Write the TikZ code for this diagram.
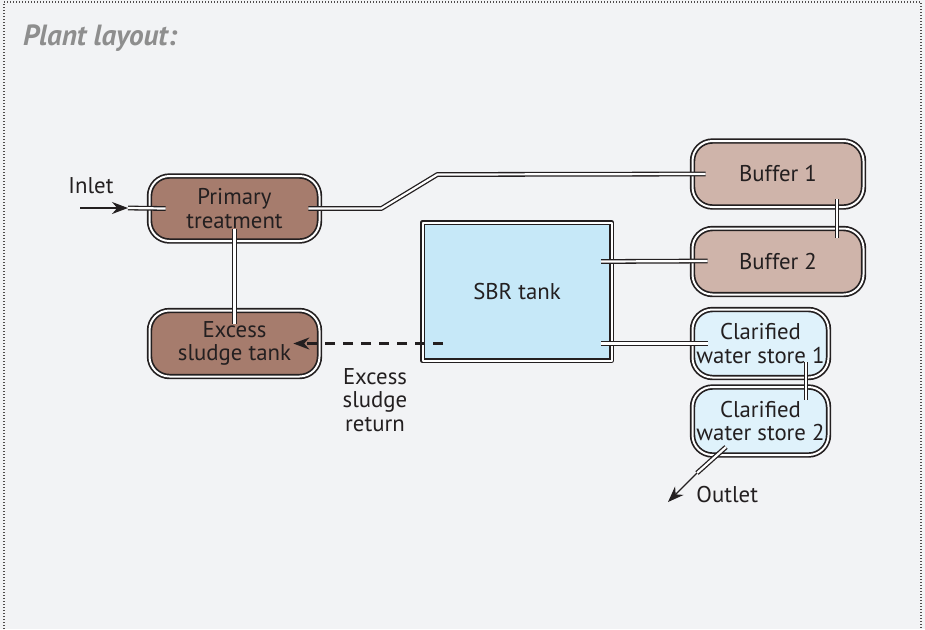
\documentclass[tikz,border=0pt]{standalone}
\usepackage{fontspec}
\setmainfont{PT Sans}
\usetikzlibrary{arrows.meta}
\definecolor{bgGray}{HTML}{F2F3F5}
\definecolor{inkDark}{HTML}{231F20}
\definecolor{titleGray}{HTML}{8E8E8E}
\definecolor{sludgeBrown}{HTML}{A67C6D}
\definecolor{bufferBrown}{HTML}{CFB4AA}
\definecolor{clearBlue}{HTML}{DFF2FB}
\definecolor{sbrBlue}{HTML}{C6E8F8}
\tikzset{
	tank/.style={draw=inkDark, double=white, double distance=1pt, line width=0.85pt,
		rounded corners=10pt, align=center, inner sep=0pt, text=inkDark},
	pipe/.style={draw=inkDark, double=white, double distance=1.1pt, line width=0.65pt},
	label/.style={text=inkDark, align=center, inner sep=0pt}
}
\begin{document}
\begin{tikzpicture}[x=0.5pt, y=-0.5pt, font=\fontsize{11.4}{11.6}\selectfont, line join=round, >={Stealth[length=8pt,width=6pt]}]
	\useasboundingbox (0,0) rectangle (925,629);
	\fill[bgGray] (0,0) rectangle (925,629);
	\draw[inkDark!80, line width=0.6pt, dash pattern=on 0.5pt off 1pt] (4,629) |- (921,2) -- (921,629);

	\node[anchor=base west, text=titleGray, font=\fontsize{14.6}{16}\selectfont\bfseries\itshape] (title) at (16,45) {Plant layout:};

	% tanks
	\node[tank, fill=sludgeBrown, minimum width=85pt, minimum height=32.5pt] (prim) at (234.5,208.5) {Primary\\treatment};
	\node[tank, fill=sludgeBrown, minimum width=85pt, minimum height=33pt] (exc) at (234.5,343.5) {Excess\\sludge tank};
	\node[tank, fill=bufferBrown, minimum width=85.5pt, minimum height=33pt] (buf1) at (778,174) {Buffer 1};
	\node[tank, fill=bufferBrown, minimum width=85.5pt, minimum height=33pt] (buf2) at (778,261.5) {Buffer 2};
	\node[tank, fill=clearBlue, minimum width=68pt, minimum height=34pt] (cws1) at (760.5,343.5) {Clarified\\water store 1};
	\node[tank, fill=clearBlue, minimum width=68pt, minimum height=34pt] (cws2) at (760.5,421) {Clarified\\water store 2};
	\node[tank, fill=sbrBlue, rounded corners=0pt, minimum width=94.5pt, minimum height=69pt] (sbr) at (517,291.5) {SBR tank};

	% pipes
	\path
	(80,208) coordinate (inl)
	(128,208) coordinate (inlPipe)
	;
	\draw[->, inkDark, line width=0.6pt] (inl) -- (inlPipe);
	\draw[pipe] (inlPipe) -- ([xshift=8.5pt]prim.west);
	\draw[pipe] ([xshift=-6pt]prim.east) -- ++(73,0) -- ++(56,-34) -- ([xshift=7pt]buf1.west);
	\draw[pipe] ([yshift=-10pt]prim.center) -- ([yshift=10pt]exc.center);
	\draw[pipe] ([xshift=29.5pt,yshift=-12.5pt]buf1.center) -- ([xshift=29.5pt,yshift=12pt]buf2.center);
	\draw[pipe] ([xshift=42pt,yshift=15pt]sbr.center) -- ([xshift=8pt,yshift=0.25pt]buf2.west);
	\draw[pipe] ([xshift=42pt,yshift=-26pt]sbr.center) -- ([xshift=8pt]cws1.west);
	\draw[pipe] ([xshift=22.75pt,yshift=-9.25pt]cws1.center) -- ([xshift=22.75pt,yshift=10.5pt]cws2.center);
	\draw[pipe] ([xshift=-17.25pt,yshift=-13pt]cws2.center) -- ++(-29,26) coordinate (outPipe);
	\draw[->, inkDark, line width=0.6pt] (outPipe) -- ++(-29,29) coordinate (outl);

	% sludge return
	\draw[->, inkDark, line width=1.1pt, dash pattern=on 5pt off 4pt] ([xshift=-37pt,yshift=-26pt]sbr.center) -- ([xshift=-13.5pt]exc.east);

	\node[label] (inletTxt) at (91,186) {Inlet};
	\node[label] (retTxt) at (375,400) {Excess\\sludge\\return};
	\node[label, anchor=west] (outTxt) at (696,495) {Outlet};
\end{tikzpicture}
\end{document}
